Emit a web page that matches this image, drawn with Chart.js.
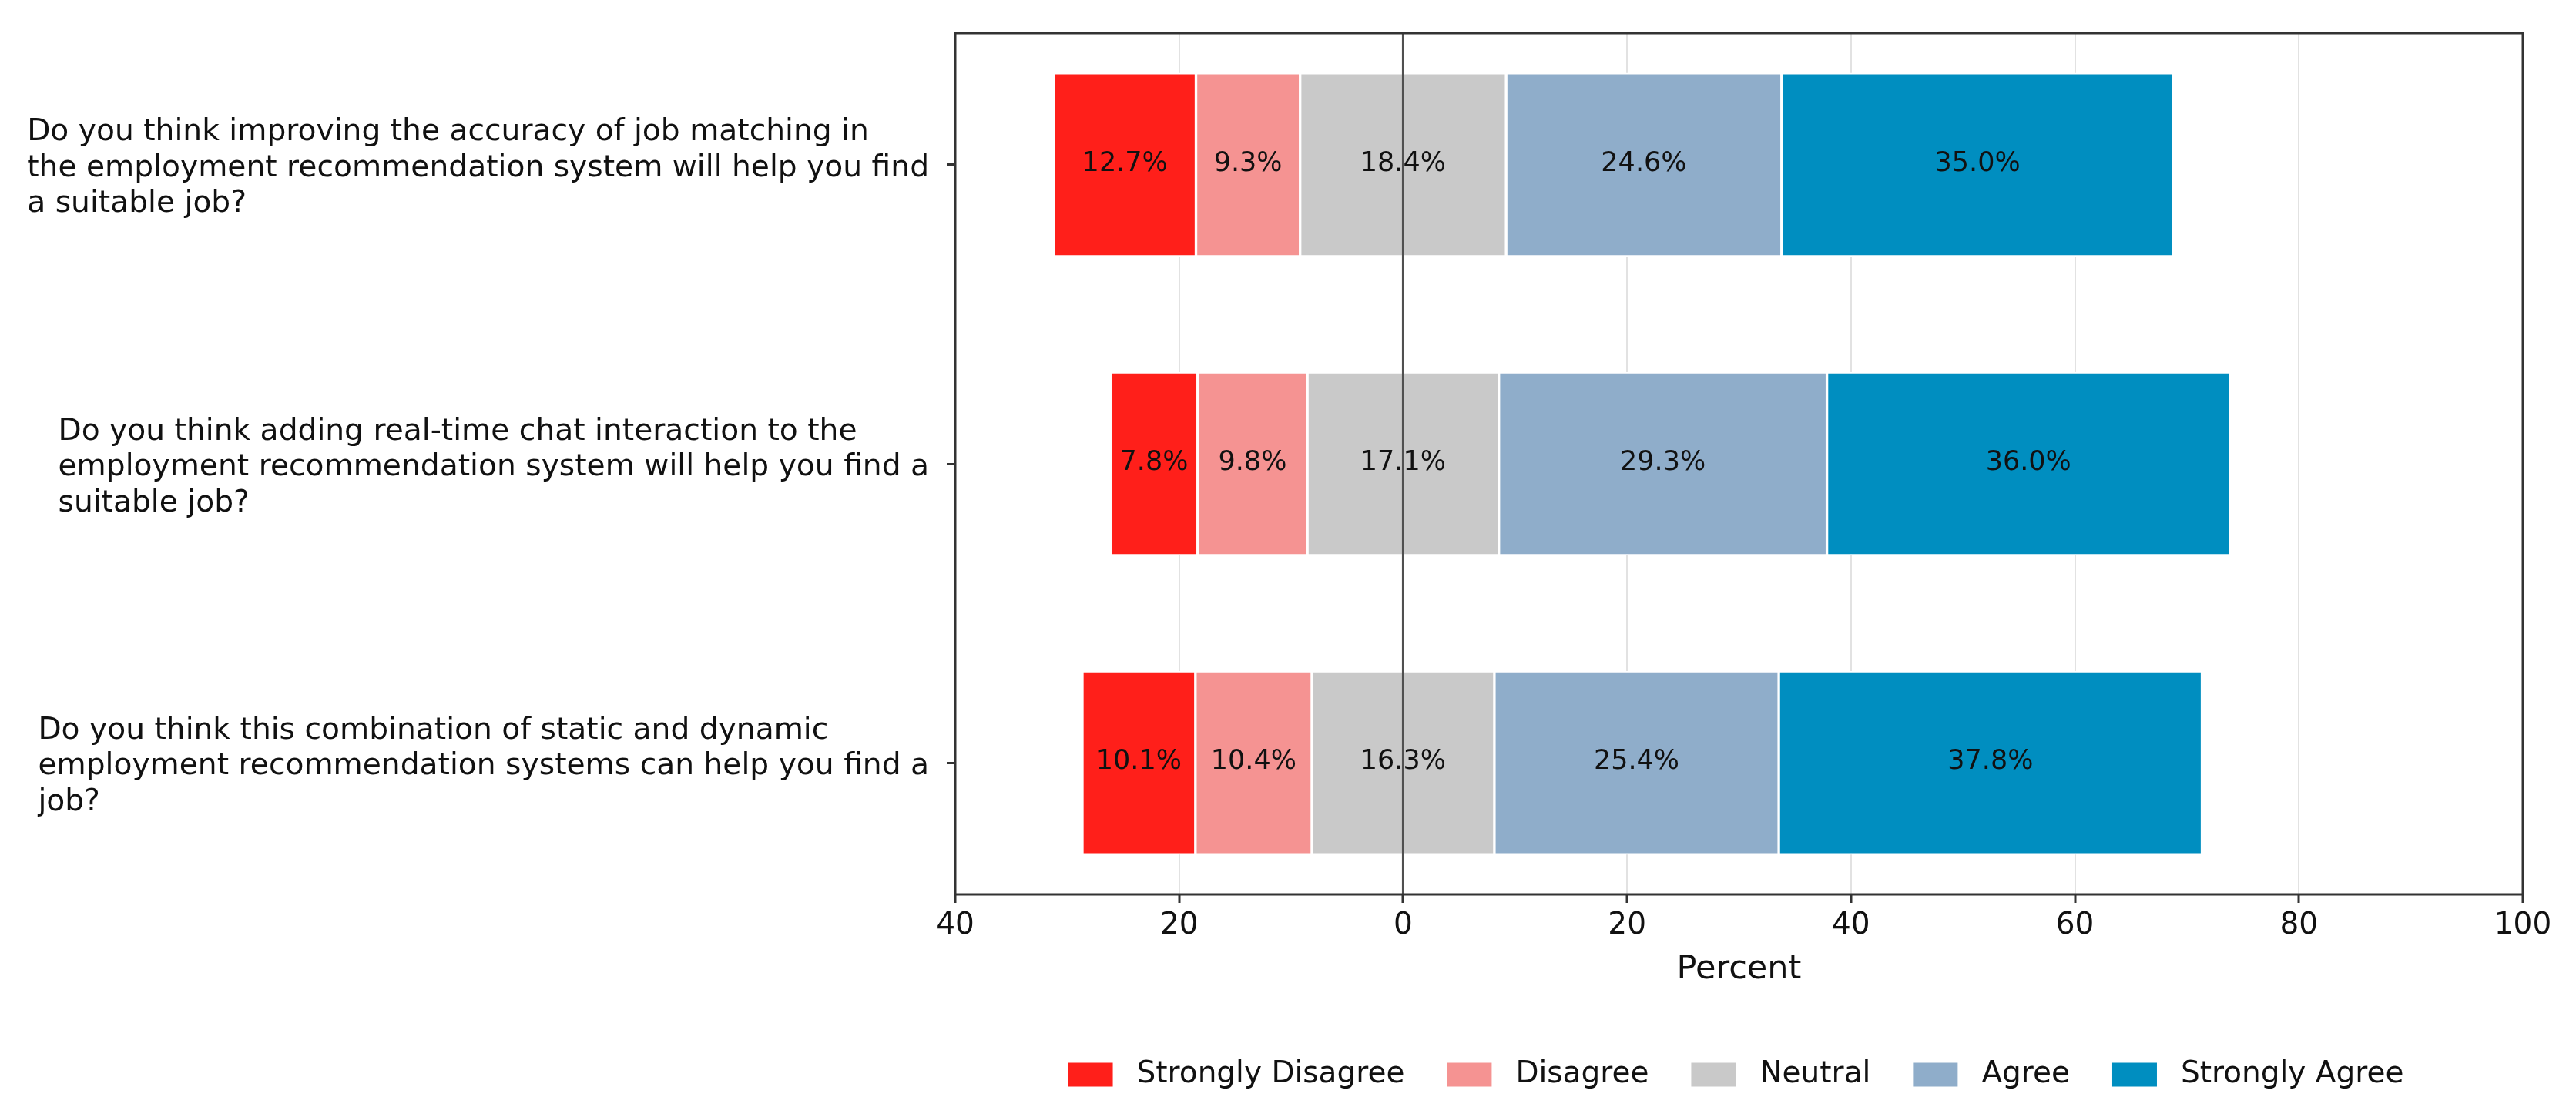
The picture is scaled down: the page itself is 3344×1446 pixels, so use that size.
<!DOCTYPE html>
<html>
<head>
<meta charset="utf-8">
<script src="https://cdn.jsdelivr.net/npm/chart.js@4.4.1/dist/chart.umd.min.js"></script>
<style>
  html, body { margin: 0; padding: 0; background: #fff; }
  #wrap { width: 3344px; height: 1446px; }
</style>
</head>
<body>
<div id="wrap"><canvas id="chart" width="3344" height="1446"></canvas></div>
<script>
const questions = [
    ['Do you think improving the accuracy of job matching in',
     'the employment recommendation system will help you find',
     'a suitable job?'],
    ['Do you think adding real-time chat interaction to the',
     'employment recommendation system will help you find a',
     'suitable job?'],
    ['Do you think this combination of static and dynamic',
     'employment recommendation systems can help you find a',
     'job?']
];
const categories = ['Strongly Disagree', 'Disagree', 'Neutral', 'Agree', 'Strongly Agree'];
const stronglyDisagree = [12.7, 7.8, 10.1];
const disagree = [9.3, 9.8, 10.4];
const neutral = [18.4, 17.1, 16.3];
const agree = [24.6, 29.3, 25.4];
const stronglyAgree = [35.0, 36.0, 37.8];
const xTickLabels = ['40', '20', '0', '20', '40', '60', '80', '100'];
const colores = ['#ff1f1a', '#f59392', '#c9c9c9', '#8fadca', '#008ec0'];

const series = [stronglyDisagree, disagree, neutral, agree, stronglyAgree];

// neutral is centred on 0, disagree to the left, agree to the right
function tramos(row) {
    let inicio = -(neutral[row] / 2 + disagree[row] + stronglyDisagree[row]);
    return series.map(s => {
        const r = [inicio, inicio + s[row]];
        inicio += s[row];
        return r;
    });
}

const datasets = categories.map((nombre, k) => ({
    label: nombre,
    data: questions.map((q, row) => ({ y: row, x: tramos(row)[k] })),
    valores: series[k],
    backgroundColor: colores[k],
    borderColor: '#ffffff',
    borderWidth: 2,
    borderSkipped: false,
    barThickness: 238,
    grouped: false
}));

const FONT = '"DejaVu Sans", sans-serif';

const extras = {
    id: 'extras',
    afterDatasetsDraw(chart) {
        const ctx = chart.ctx;
        const area = chart.chartArea;
        ctx.save();
        // value labels
        ctx.font = `35px ${FONT}`;
        ctx.fillStyle = '#111';
        ctx.textAlign = 'center';
        ctx.textBaseline = 'middle';
        chart.data.datasets.forEach((ds, i) => {
            chart.getDatasetMeta(i).data.forEach((el, j) => {
                const p = el.getCenterPoint();
                ctx.fillText(ds.valores[j].toFixed(1) + '%', p.x, p.y - 1);
            });
        });
        // zero line
        const x0 = chart.scales.x.getPixelForValue(0);
        ctx.strokeStyle = '#505050';
        ctx.lineWidth = 3;
        ctx.beginPath();
        ctx.moveTo(x0, area.top);
        ctx.lineTo(x0, area.bottom);
        ctx.stroke();
        ctx.restore();
    },
    afterDraw(chart) {
        const ctx = chart.ctx;
        const area = chart.chartArea;
        ctx.save();
        // frame
        ctx.strokeStyle = '#333';
        ctx.lineWidth = 3;
        ctx.strokeRect(area.left, area.top, area.right - area.left, area.bottom - area.top);

        // question labels: blocks right aligned, lines left aligned
        ctx.font = `39.2px ${FONT}`;
        ctx.fillStyle = '#111';
        ctx.textAlign = 'left';
        ctx.textBaseline = 'middle';
        const ys = chart.scales.y;
        questions.forEach((lineas, i) => {
            const cy = ys.getPixelForValue(i) + 5;
            const w = Math.max(...lineas.map(l => ctx.measureText(l).width));
            const izq = 1206 - w;
            lineas.forEach((l, j) => {
                ctx.fillText(l, izq, cy + (j - (lineas.length - 1) / 2) * 46.5);
            });
        });

        // legend centred under the plot
        ctx.font = `39px ${FONT}`;
        const boxW = 58, boxH = 31, gapTexto = 31, gapItem = 55;
        const items = chart.data.datasets.map(ds => ({
            texto: ds.label, color: ds.backgroundColor, w: ctx.measureText(ds.label).width
        }));
        const total = items.reduce((a, it) => a + boxW + gapTexto + it.w, 0) + gapItem * (items.length - 1);
        let x = (area.left + area.right) / 2 - total / 2 - 4;
        const yc = chart.height - 51;
        items.forEach(it => {
            ctx.fillStyle = it.color;
            ctx.fillRect(x, yc - boxH / 2, boxW, boxH);
            ctx.fillStyle = '#111';
            ctx.fillText(it.texto, x + boxW + gapTexto, yc);
            x += boxW + gapTexto + it.w + gapItem;
        });
        ctx.restore();
    }
};

Chart.defaults.font.family = FONT;
Chart.defaults.color = '#111';

new Chart(document.getElementById('chart'), {
    type: 'bar',
    data: { datasets: datasets },
    options: {
        indexAxis: 'y',
        responsive: false,
        animation: false,
        devicePixelRatio: 1,
        layout: { padding: { left: 0, top: 43, right: 69, bottom: 161 } },
        plugins: {
            legend: { display: false },
            tooltip: { enabled: false }
        },
        scales: {
            x: {
                type: 'linear',
                min: -40,
                max: 100,
                ticks: {
                    stepSize: 20,
                    padding: 6,
                    font: { size: 39, lineHeight: 1.2 },
                    color: '#111',
                    callback: (v, i) => xTickLabels[i]
                },
                grid: {
                    color: '#e2e2e2',
                    lineWidth: 2,
                    tickColor: '#333',
                    tickWidth: 3,
                    tickLength: 11
                },
                border: { display: false },
                title: {
                    display: true,
                    text: 'Percent',
                    font: { size: 43, lineHeight: 1.2 },
                    color: '#111',
                    padding: { top: 0, bottom: 0 }
                },
                afterFit: s => { s.height = 124; }
            },
            y: {
                type: 'linear',
                reverse: true,
                offset: false,
                min: -0.44,
                max: 2.44,
                afterBuildTicks: s => { s.ticks = questions.map((q, i) => ({ value: i })); },
                ticks: { display: false },
                grid: {
                    offset: false,
                    drawOnChartArea: false,
                    tickColor: '#333',
                    tickWidth: 3,
                    tickLength: 11
                },
                border: { display: false },
                afterFit: s => { s.width = 1240; }
            }
        }
    },
    plugins: [extras]
});
</script>
</body>
</html>
